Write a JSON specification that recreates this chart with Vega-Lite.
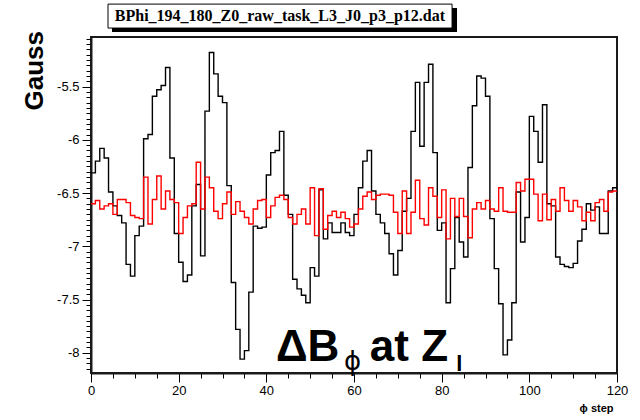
{
  "$schema": "https://vega.github.io/schema/vega-lite/v6.json",
  "width": 526,
  "height": 336,
  "autosize": {"type": "none"},
  "padding": {"left": 91, "top": 37, "right": 23, "bottom": 47},
  "background": "white",
  "config": {"view": {"stroke": "#1a1a1a", "strokeWidth": 2}, "font": "Liberation Sans"},
  "datasets": {
    "black": [
      {"phi":0,"B":-6.31},{"phi":1,"B":-6.20},{"phi":2,"B":-6.08},{"phi":3,"B":-6.17},{"phi":4,"B":-6.49},
      {"phi":5,"B":-6.62},{"phi":6,"B":-6.71},{"phi":7,"B":-6.78},{"phi":8,"B":-7.17},{"phi":9,"B":-7.28},
      {"phi":10,"B":-6.90},{"phi":11,"B":-6.81},{"phi":12,"B":-5.99},{"phi":13,"B":-5.95},{"phi":14,"B":-5.59},
      {"phi":15,"B":-5.53},{"phi":16,"B":-5.49},{"phi":17,"B":-5.32},{"phi":18,"B":-6.17},{"phi":19,"B":-6.88},
      {"phi":20,"B":-7.15},{"phi":21,"B":-7.33},{"phi":22,"B":-7.27},{"phi":23,"B":-6.62},{"phi":24,"B":-6.42},
      {"phi":25,"B":-7.09},{"phi":26,"B":-5.73},{"phi":27,"B":-5.18},{"phi":28,"B":-5.38},{"phi":29,"B":-5.59},
      {"phi":30,"B":-5.65},{"phi":31,"B":-6.43},{"phi":32,"B":-7.34},{"phi":33,"B":-7.78},{"phi":34,"B":-8.06},
      {"phi":35,"B":-7.98},{"phi":36,"B":-7.43},{"phi":37,"B":-6.81},{"phi":38,"B":-6.83},{"phi":39,"B":-6.82},
      {"phi":40,"B":-6.33},{"phi":41,"B":-6.12},{"phi":42,"B":-6.10},{"phi":43,"B":-5.92},{"phi":44,"B":-6.52},
      {"phi":45,"B":-6.70},{"phi":46,"B":-7.31},{"phi":47,"B":-7.40},{"phi":48,"B":-7.46},{"phi":49,"B":-7.53},
      {"phi":50,"B":-7.20},{"phi":51,"B":-7.28},{"phi":52,"B":-6.47},{"phi":53,"B":-6.93},{"phi":54,"B":-6.78},
      {"phi":55,"B":-6.87},{"phi":56,"B":-6.87},{"phi":57,"B":-6.78},{"phi":58,"B":-6.87},{"phi":59,"B":-6.90},
      {"phi":60,"B":-6.70},{"phi":61,"B":-6.45},{"phi":62,"B":-6.20},{"phi":63,"B":-6.10},{"phi":64,"B":-6.48},
      {"phi":65,"B":-6.70},{"phi":66,"B":-6.78},{"phi":67,"B":-6.88},{"phi":68,"B":-7.07},{"phi":69,"B":-7.27},
      {"phi":70,"B":-7.04},{"phi":71,"B":-6.67},{"phi":72,"B":-6.55},{"phi":73,"B":-5.92},{"phi":74,"B":-5.46},
      {"phi":75,"B":-6.06},{"phi":76,"B":-5.46},{"phi":77,"B":-5.29},{"phi":78,"B":-6.12},{"phi":79,"B":-6.85},
      {"phi":80,"B":-6.78},{"phi":81,"B":-7.53},{"phi":82,"B":-7.21},{"phi":83,"B":-6.73},{"phi":84,"B":-6.96},
      {"phi":85,"B":-7.10},{"phi":86,"B":-6.26},{"phi":87,"B":-5.68},{"phi":88,"B":-5.40},{"phi":89,"B":-5.42},
      {"phi":90,"B":-5.59},{"phi":91,"B":-6.74},{"phi":92,"B":-7.21},{"phi":93,"B":-7.54},{"phi":94,"B":-8.02},
      {"phi":95,"B":-7.88},{"phi":96,"B":-7.53},{"phi":97,"B":-6.49},{"phi":98,"B":-6.96},{"phi":99,"B":-6.73},
      {"phi":100,"B":-5.78},{"phi":101,"B":-5.92},{"phi":102,"B":-6.21},{"phi":103,"B":-5.67},{"phi":104,"B":-6.60},
      {"phi":105,"B":-6.62},{"phi":106,"B":-7.10},{"phi":107,"B":-7.17},{"phi":108,"B":-7.19},{"phi":109,"B":-7.20},
      {"phi":110,"B":-7.16},{"phi":111,"B":-6.95},{"phi":112,"B":-6.84},{"phi":113,"B":-6.60},{"phi":114,"B":-6.66},
      {"phi":115,"B":-6.63},{"phi":116,"B":-6.88},{"phi":117,"B":-6.88},{"phi":118,"B":-6.48},{"phi":119,"B":-6.45},
      {"phi":120,"B":-6.45}
    ],
    "red": [
      {"phi":0,"B":-6.60},{"phi":1,"B":-6.57},{"phi":2,"B":-6.65},{"phi":3,"B":-6.62},{"phi":4,"B":-6.60},
      {"phi":5,"B":-6.70},{"phi":6,"B":-6.56},{"phi":7,"B":-6.56},{"phi":8,"B":-6.59},{"phi":9,"B":-6.71},
      {"phi":10,"B":-6.73},{"phi":11,"B":-6.74},{"phi":12,"B":-6.35},{"phi":13,"B":-6.79},{"phi":14,"B":-6.56},
      {"phi":15,"B":-6.34},{"phi":16,"B":-6.65},{"phi":17,"B":-6.48},{"phi":18,"B":-6.56},{"phi":19,"B":-6.59},
      {"phi":20,"B":-6.88},{"phi":21,"B":-6.73},{"phi":22,"B":-6.62},{"phi":23,"B":-6.60},{"phi":24,"B":-6.21},
      {"phi":25,"B":-6.65},{"phi":26,"B":-6.35},{"phi":27,"B":-6.45},{"phi":28,"B":-6.67},{"phi":29,"B":-6.74},
      {"phi":30,"B":-6.60},{"phi":31,"B":-6.49},{"phi":32,"B":-6.70},{"phi":33,"B":-6.58},{"phi":34,"B":-6.67},
      {"phi":35,"B":-6.73},{"phi":36,"B":-6.79},{"phi":37,"B":-6.65},{"phi":38,"B":-6.57},{"phi":39,"B":-6.56},
      {"phi":40,"B":-6.73},{"phi":41,"B":-6.62},{"phi":42,"B":-6.54},{"phi":43,"B":-6.52},{"phi":44,"B":-6.56},
      {"phi":45,"B":-6.73},{"phi":46,"B":-6.79},{"phi":47,"B":-6.70},{"phi":48,"B":-6.65},{"phi":49,"B":-6.79},
      {"phi":50,"B":-6.45},{"phi":51,"B":-6.90},{"phi":52,"B":-6.46},{"phi":53,"B":-6.84},{"phi":54,"B":-6.71},
      {"phi":55,"B":-6.67},{"phi":56,"B":-6.73},{"phi":57,"B":-6.68},{"phi":58,"B":-6.74},{"phi":59,"B":-6.82},
      {"phi":60,"B":-6.79},{"phi":61,"B":-6.65},{"phi":62,"B":-6.53},{"phi":63,"B":-6.49},{"phi":64,"B":-6.56},
      {"phi":65,"B":-6.52},{"phi":66,"B":-6.51},{"phi":67,"B":-6.51},{"phi":68,"B":-6.52},{"phi":69,"B":-6.68},
      {"phi":70,"B":-6.88},{"phi":71,"B":-6.48},{"phi":72,"B":-6.88},{"phi":73,"B":-6.68},{"phi":74,"B":-6.38},
      {"phi":75,"B":-6.74},{"phi":76,"B":-6.80},{"phi":77,"B":-6.45},{"phi":78,"B":-6.53},{"phi":79,"B":-6.73},
      {"phi":80,"B":-6.47},{"phi":81,"B":-6.93},{"phi":82,"B":-6.55},{"phi":83,"B":-6.72},{"phi":84,"B":-6.55},
      {"phi":85,"B":-6.72},{"phi":86,"B":-6.92},{"phi":87,"B":-6.65},{"phi":88,"B":-6.59},{"phi":89,"B":-6.65},
      {"phi":90,"B":-6.57},{"phi":91,"B":-6.65},{"phi":92,"B":-6.67},{"phi":93,"B":-6.45},{"phi":94,"B":-6.67},
      {"phi":95,"B":-6.68},{"phi":96,"B":-6.68},{"phi":97,"B":-6.40},{"phi":98,"B":-6.48},{"phi":99,"B":-6.37},
      {"phi":100,"B":-6.37},{"phi":101,"B":-6.51},{"phi":102,"B":-6.76},{"phi":103,"B":-6.51},{"phi":104,"B":-6.75},
      {"phi":105,"B":-6.56},{"phi":106,"B":-6.67},{"phi":107,"B":-6.45},{"phi":108,"B":-6.57},{"phi":109,"B":-6.67},
      {"phi":110,"B":-6.57},{"phi":111,"B":-6.63},{"phi":112,"B":-6.76},{"phi":113,"B":-6.68},{"phi":114,"B":-6.76},
      {"phi":115,"B":-6.59},{"phi":116,"B":-6.56},{"phi":117,"B":-6.67},{"phi":118,"B":-6.49},{"phi":119,"B":-6.48},
      {"phi":120,"B":-6.48}
    ]
  },
  "layer": [
    {
      "data": {"name": "black"},
      "mark": {"type": "line", "interpolate": "step-after", "color": "black", "strokeWidth": 1.4},
      "encoding": {
        "x": {
          "field": "phi", "type": "quantitative",
          "scale": {"domain": [0, 120], "nice": false, "zero": false},
          "axis": {
            "values": [0,5,10,15,20,25,30,35,40,45,50,55,60,65,70,75,80,85,90,95,100,105,110,115,120],
            "tickCount": 200,
            "labelExpr": "datum.value % 20 === 0 ? '' + datum.value : ''",
            "labelOverlap": false, "labelFlush": false,
            "tickSize": 9,
            "tickDash": {"condition": {"test": "datum.value % 20 === 0", "value": [9, 0]}, "value": [5, 20]},
            "tickColor": "black", "tickWidth": 1,
            "domainColor": "#1a1a1a", "domainWidth": 2,
            "grid": false,
            "labelFont": "Liberation Sans", "labelFontSize": 13, "labelColor": "black", "labelPadding": 2,
            "title": "ϕ step", "titleFont": "Liberation Sans", "titleFontSize": 11, "titleFontWeight": "bold",
            "titleColor": "black", "titleAnchor": "end", "titleAlign": "right", "titleBaseline": "alphabetic",
            "titleX": 522, "titleY": 38
          }
        },
        "y": {
          "field": "B", "type": "quantitative",
          "scale": {"domain": [-8.19, -5.034], "nice": false, "zero": false},
          "axis": {
            "values": [-8.15,-8.1,-8.05,-8,-7.95,-7.9,-7.85,-7.8,-7.75,-7.7,-7.65,-7.6,-7.55,-7.5,-7.45,-7.4,-7.35,-7.3,-7.25,-7.2,-7.15,-7.1,-7.05,-7,-6.95,-6.9,-6.85,-6.8,-6.75,-6.7,-6.65,-6.6,-6.55,-6.5,-6.45,-6.4,-6.35,-6.3,-6.25,-6.2,-6.15,-6.1,-6.05,-6,-5.95,-5.9,-5.85,-5.8,-5.75,-5.7,-5.65,-5.6,-5.55,-5.5,-5.45,-5.4,-5.35,-5.3,-5.25,-5.2,-5.15,-5.1,-5.05],
            "tickCount": 200,
            "labelExpr": "abs(datum.value % 0.5) < 0.001 ? '' + datum.value : ''",
            "labelOverlap": false, "labelFlush": false,
            "tickSize": 9,
            "tickDash": {"condition": {"test": "abs(datum.value % 0.5) < 0.001", "value": [9, 0]}, "value": [5, 20]},
            "tickColor": "black", "tickWidth": 1,
            "domainColor": "#1a1a1a", "domainWidth": 2,
            "grid": false,
            "labelFont": "Liberation Sans", "labelFontSize": 13, "labelColor": "black", "labelPadding": 3,
            "title": "Gauss", "titleFont": "Liberation Sans", "titleFontSize": 26, "titleFontWeight": "bold",
            "titleColor": "black", "titleAngle": -90, "titleAlign": "left",
            "titleBaseline": "alphabetic", "titleX": -49, "titleY": 73
          }
        }
      }
    },
    {
      "data": {"name": "red"},
      "mark": {"type": "line", "interpolate": "step-after", "color": "#ff0000", "strokeWidth": 1.4},
      "encoding": {
        "x": {"field": "phi", "type": "quantitative"},
        "y": {"field": "B", "type": "quantitative"}
      }
    },
    {
      "data": {"values": [{}]},
      "mark": {"type": "rect", "fill": "black"},
      "encoding": {
        "x": {"datum": 4.79, "type": "quantitative"},
        "x2": {"datum": 83.5},
        "y": {"datum": -4.762, "type": "quantitative"},
        "y2": {"datum": -4.987}
      }
    },
    {
      "data": {"values": [{}]},
      "mark": {"type": "rect", "fill": "white", "stroke": "black", "strokeWidth": 1},
      "encoding": {
        "x": {"datum": 3.88, "type": "quantitative"},
        "x2": {"datum": 82.37},
        "y": {"datum": -4.725, "type": "quantitative"},
        "y2": {"datum": -4.95}
      }
    },
    {
      "data": {"values": [{}]},
      "mark": {"type": "text", "text": "BPhi_194_180_Z0_raw_task_L3_J0_p3_p12.dat", "font": "Liberation Sans Narrow", "fontSize": 16, "fontWeight": "bold", "color": "black", "align": "center", "baseline": "middle"},
      "encoding": {
        "x": {"datum": 43.1, "type": "quantitative"},
        "y": {"datum": -4.84, "type": "quantitative"}
      }
    },
    {
      "data": {"values": [{}]},
      "mark": {"type": "text", "text": "ΔB", "font": "Liberation Sans", "fontSize": 44, "fontWeight": "bold", "color": "black", "align": "left", "baseline": "alphabetic"},
      "encoding": {
        "x": {"datum": 42.2, "type": "quantitative"},
        "y": {"datum": -8.08, "type": "quantitative"}
      }
    },
    {
      "data": {"values": [{}]},
      "mark": {"type": "text", "text": "ϕ", "font": "DejaVu Sans", "fontSize": 26, "color": "black", "align": "left", "baseline": "alphabetic"},
      "encoding": {
        "x": {"datum": 57.7, "type": "quantitative"},
        "y": {"datum": -8.16, "type": "quantitative"}
      }
    },
    {
      "data": {"values": [{}]},
      "mark": {"type": "text", "text": "at Z", "font": "Liberation Sans", "fontSize": 44, "fontWeight": "bold", "color": "black", "align": "left", "baseline": "alphabetic"},
      "encoding": {
        "x": {"datum": 63.6, "type": "quantitative"},
        "y": {"datum": -8.08, "type": "quantitative"}
      }
    },
    {
      "data": {"values": [{}]},
      "mark": {"type": "text", "text": "l", "font": "Liberation Sans", "fontSize": 22, "fontWeight": "bold", "color": "black", "align": "left", "baseline": "alphabetic"},
      "encoding": {
        "x": {"datum": 83.3, "type": "quantitative"},
        "y": {"datum": -8.174, "type": "quantitative"}
      }
    }
  ]
}
